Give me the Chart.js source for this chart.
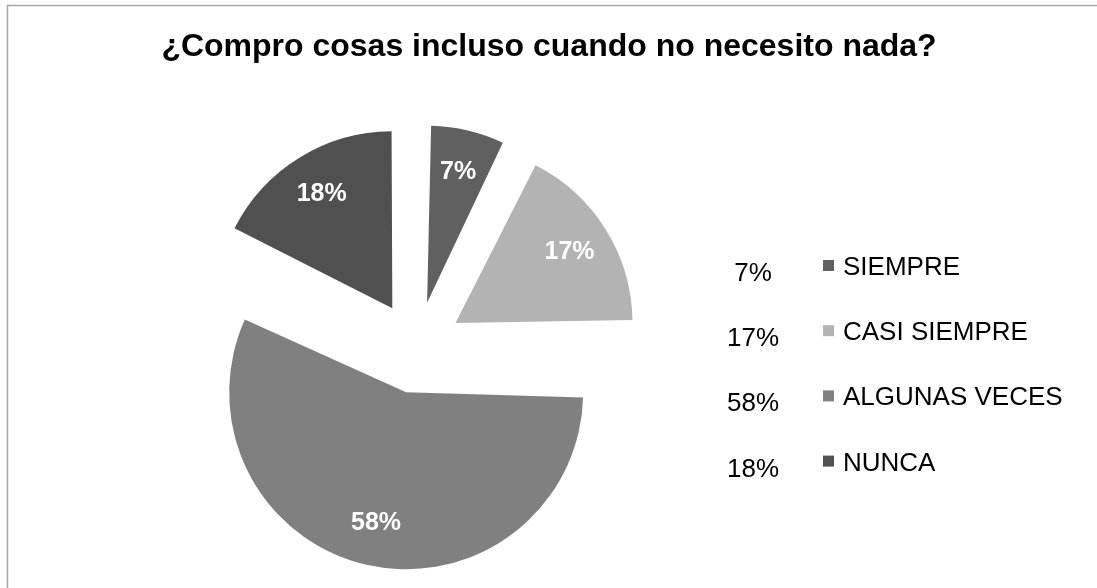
<!DOCTYPE html>
<html>
<head>
<meta charset="utf-8">
<script src="https://cdn.jsdelivr.net/npm/chart.js@4.4.1/dist/chart.umd.min.js"></script>
<style>
  html, body { margin: 0; padding: 0; background: #fff; }
  #wrap { width: 1097px; height: 588px; }
</style>
</head>
<body>
<div id="wrap"><canvas id="grafico" width="1097" height="588"></canvas></div>
<script>
// Datos del gráfico (porcentajes)
const titulo = '¿Compro cosas incluso cuando no necesito nada?';
const categorias = ['SIEMPRE', 'CASI SIEMPRE', 'ALGUNAS VECES', 'NUNCA'];
const porcentajes = [7.4, 17.4, 57.6, 17.6];
const colores = ['#606060', '#b3b3b3', '#808080', '#505050'];

const fuente = "'Liberation Sans', Arial, sans-serif";
const separacion = 46; // cuánto se separa cada porción del centro
const radio = 177;

// Chart.js desplaza cada arco offset/4 y agranda su radio offset/4 * fix
function fixArco(valor) {
    const total = porcentajes.reduce((a, b) => a + b, 0);
    const circ = valor / total * Math.PI * 2;
    return 1 - Math.sin(Math.min(Math.PI, circ));
}

// Se compensa el crecimiento del radio para que todas las porciones midan igual
const mismoRadio = {
    id: 'mismoRadio',
    afterDatasetsUpdate(chart) {
        chart.getDatasetMeta(0).data.forEach((arc, i) => {
            arc.outerRadius = radio - separacion * fixArco(porcentajes[i]);
        });
    }
};

// Marco gris y título
const marco = {
    id: 'marco',
    beforeDraw(chart) {
        const ctx = chart.ctx;
        ctx.save();
        ctx.strokeStyle = '#a6a6a6';
        ctx.lineWidth = 1.5;
        ctx.strokeRect(7.5, 5.5, 2000, 2000);
        ctx.fillStyle = '#000000';
        ctx.font = 'bold 32px ' + fuente;
        ctx.textAlign = 'center';
        ctx.textBaseline = 'alphabetic';
        ctx.fillText(titulo, 549, 56);
        ctx.restore();
    }
};

// Etiquetas de porcentaje dentro de cada porción
const etiquetas = {
    id: 'etiquetas',
    afterDatasetsDraw(chart) {
        const ctx = chart.ctx;
        const meta = chart.getDatasetMeta(0);
        ctx.save();
        ctx.fillStyle = '#ffffff';
        ctx.font = 'bold 25px ' + fuente;
        ctx.textAlign = 'center';
        ctx.textBaseline = 'middle';
        meta.data.forEach((arc, i) => {
            const p = arc.getProps(['x', 'y', 'startAngle', 'endAngle']);
            const medio = (p.startAngle + p.endAngle) / 2;
            const dist = separacion + radio * 0.76;
            ctx.fillText(Math.round(porcentajes[i]) + '%', p.x + Math.cos(medio) * dist, p.y + Math.sin(medio) * dist);
        });
        ctx.restore();
    }
};

// Leyenda a la derecha con el porcentaje delante
const leyenda = {
    id: 'leyenda',
    afterDraw(chart) {
        const ctx = chart.ctx;
        ctx.save();
        ctx.font = '26px ' + fuente;
        ctx.textBaseline = 'alphabetic';
        categorias.forEach((cat, i) => {
            const base = 275 + i * 65.2;
            ctx.fillStyle = colores[i];
            ctx.fillRect(823, base - 15, 11, 11);
            ctx.fillStyle = '#000000';
            ctx.textAlign = 'left';
            ctx.fillText(cat, 843, base);
            ctx.textAlign = 'center';
            ctx.fillText(Math.round(porcentajes[i]) + '%', 753, base + 6);
        });
        ctx.restore();
    }
};

const grafico = new Chart(document.getElementById('grafico'), {
    type: 'pie',
    data: {
        labels: categorias,
        datasets: [{
            data: porcentajes,
            backgroundColor: colores,
            borderWidth: 0,
            offset: 4 * separacion,
            clip: false
        }]
    },
    options: {
        responsive: false,
        animation: false,
        radius: radio,
        layout: {
            padding: { left: 0, right: 264, top: 200, bottom: 93 }
        },
        plugins: {
            legend: { display: false },
            tooltip: { enabled: false },
            title: { display: false }
        }
    },
    plugins: [mismoRadio, marco, etiquetas, leyenda]
});
</script>
</body>
</html>
